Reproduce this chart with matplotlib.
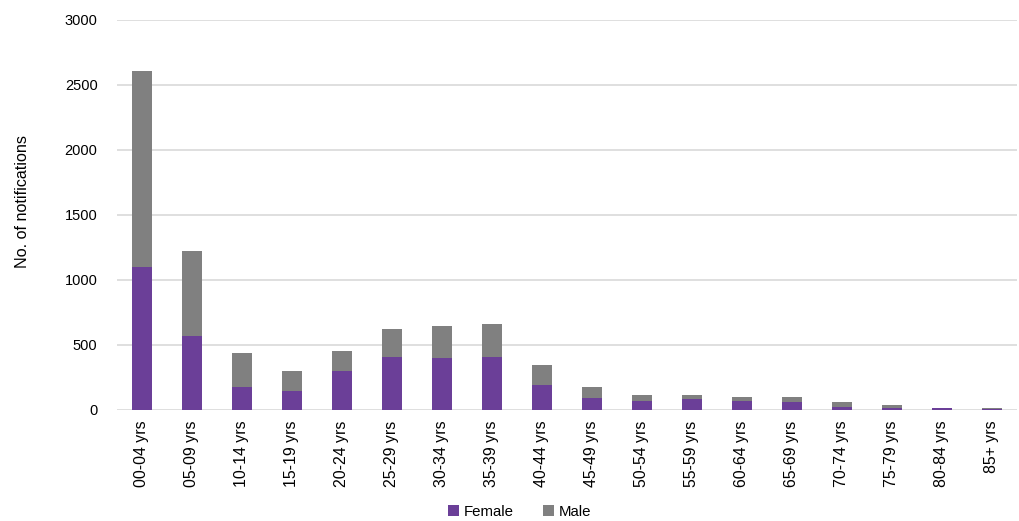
import numpy as np
import matplotlib.pyplot as plt

plt.rcParams['font.family'] = ['Liberation Sans', 'DejaVu Sans']

age_groups = ['00-04 yrs', '05-09 yrs', '10-14 yrs', '15-19 yrs', '20-24 yrs', '25-29 yrs',
              '30-34 yrs', '35-39 yrs', '40-44 yrs', '45-49 yrs', '50-54 yrs', '55-59 yrs',
              '60-64 yrs', '65-69 yrs', '70-74 yrs', '75-79 yrs', '80-84 yrs', '85+ yrs']
female = [1094, 568, 176, 142, 294, 404, 398, 404, 190, 87, 62, 79, 69, 54, 23, 15, 10, 5]
total = [2604, 1221, 432, 296, 452, 619, 645, 660, 343, 177, 115, 115, 97, 93, 56, 33, 15, 12]
male = [t - f for t, f in zip(total, female)]

purple = '#6B3F98'
grey = '#808080'

fig = plt.figure(figsize=(10.19, 5.21), dpi=100)
ax = fig.add_axes([0.1148, 0.214, 0.8832, 0.748])

x = np.arange(len(age_groups))
ax.bar(x, female, width=0.4, color=purple, label='Female', zorder=3)
ax.bar(x, male, width=0.4, bottom=female, color=grey, label='Male', zorder=3)

ax.set_xlim(-0.5, len(age_groups) - 0.5)
ax.set_ylim(0, 3000)
ax.set_yticks(np.arange(0, 3001, 500))
ax.yaxis.grid(True, color='#D9D9D9', linewidth=1.2, zorder=0)
ax.set_xticks(x)
ax.set_xticklabels(age_groups, rotation=90, fontsize=11.4)
ax.tick_params(axis='y', labelsize=10.5, length=0, pad=14)
ax.tick_params(axis='x', length=0, pad=8)
for s in ax.spines.values():
    s.set_visible(False)
ax.set_ylabel('No. of notifications', fontsize=11.6)
ax.yaxis.set_label_coords(-0.097, 0.535)

fig.legend(loc='lower center', bbox_to_anchor=(0.51, -0.022), ncol=2, frameon=False,
           fontsize=10.8, handlelength=0.7, handleheight=0.7, columnspacing=2.0, handletextpad=0.3)

fig.savefig('out.png', dpi=100)
